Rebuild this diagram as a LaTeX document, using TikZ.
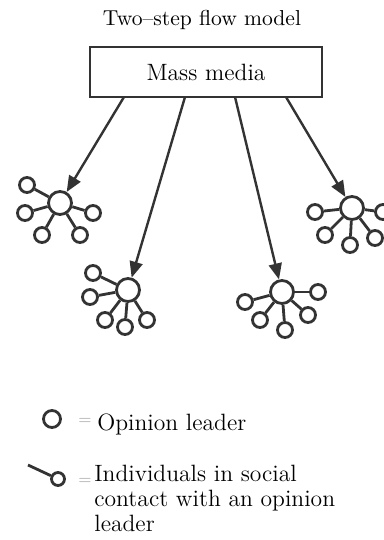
\documentclass[tikz,border=0pt]{standalone}
\usetikzlibrary{arrows.meta}

\begin{document}
\begin{tikzpicture}[x=0.5pt, y=-0.5pt,
    leader/.style={circle, draw=black!80, line width=1.4pt, minimum size=11.5pt, inner sep=0pt},
    member/.style={circle, draw=black!80, line width=1.4pt, minimum size=7.5pt, inner sep=0pt},
    spoke/.style={draw=black!80, line width=1.4pt},
    flow/.style={draw=black!80, line width=1.2pt, -{Triangle[length=8pt,width=6.5pt]}},
    txt/.style={font=\fontsize{11.8}{12.5}\selectfont},
    eqsign/.style={font=\footnotesize, text=black!35, inner sep=0pt}]
  \useasboundingbox (0,0) rectangle (384,540);

  \node[font=\fontsize{10.8}{12}\selectfont] (title) at (202,20) {Two--step flow model};
  \node[draw=black!80, line width=1.4pt, minimum width=116pt, minimum height=25pt, txt] (media) at (206,72) {Mass media};

  % Meinungsfuehrer
  \node[leader] (h1) at (60,203) {};
  \node[leader] (h2) at (128,290) {};
  \node[leader] (h3) at (282,292) {};
  \node[leader] (h4) at (352,208) {};

  \foreach \p [count=\i] in {(27,185),(25,213),(93,213),(42,235),(80,235)} {
    \node[member] (h1s\i) at \p {};
    \draw[spoke] (h1) -- (h1s\i);
  }
  \foreach \p [count=\i] in {(93,273),(90,297),(105,320),(125,327),(147,320)} {
    \node[member] (h2s\i) at \p {};
    \draw[spoke] (h2) -- (h2s\i);
  }
  \foreach \p [count=\i] in {(245,302),(260,320),(285,330),(308,315),(318,292)} {
    \node[member] (h3s\i) at \p {};
    \draw[spoke] (h3) -- (h3s\i);
  }
  \foreach \p [count=\i] in {(315,212),(325,235),(350,245),(375,238),(383,212)} {
    \node[member] (h4s\i) at \p {};
    \draw[spoke] (h4) -- (h4s\i);
  }

  % Pfeile
  \coordinate (m1) at (124,97);
  \coordinate (m2) at (185,97);
  \coordinate (m3) at (235,97);
  \coordinate (m4) at (286,97);
  \draw[flow] (m1) -- (h1);
  \draw[flow] (m2) -- (h2);
  \draw[flow] (m3) -- (h3);
  \draw[flow] (m4) -- (h4);

  % Legende
  \node[leader, minimum size=8.5pt] (keyL) at (52,419) {};
  \node[eqsign] (eqL) at (85,421) {=};
  \node[txt, anchor=base west, inner sep=0pt] (keyLtext) at (97,430) {Opinion leader};

  \node[member, minimum size=6.5pt] (keyM) at (58,479) {};
  \coordinate (tail) at (28,465);
  \draw[spoke] (tail) -- (keyM);
  \node[eqsign] (eqM) at (85,481) {=};
  \node[txt, anchor=north west, align=left, inner sep=0pt] (keyMtext) at (94,465)
    {Individuals in social\\contact with an opinion\\leader};
\end{tikzpicture}
\end{document}
